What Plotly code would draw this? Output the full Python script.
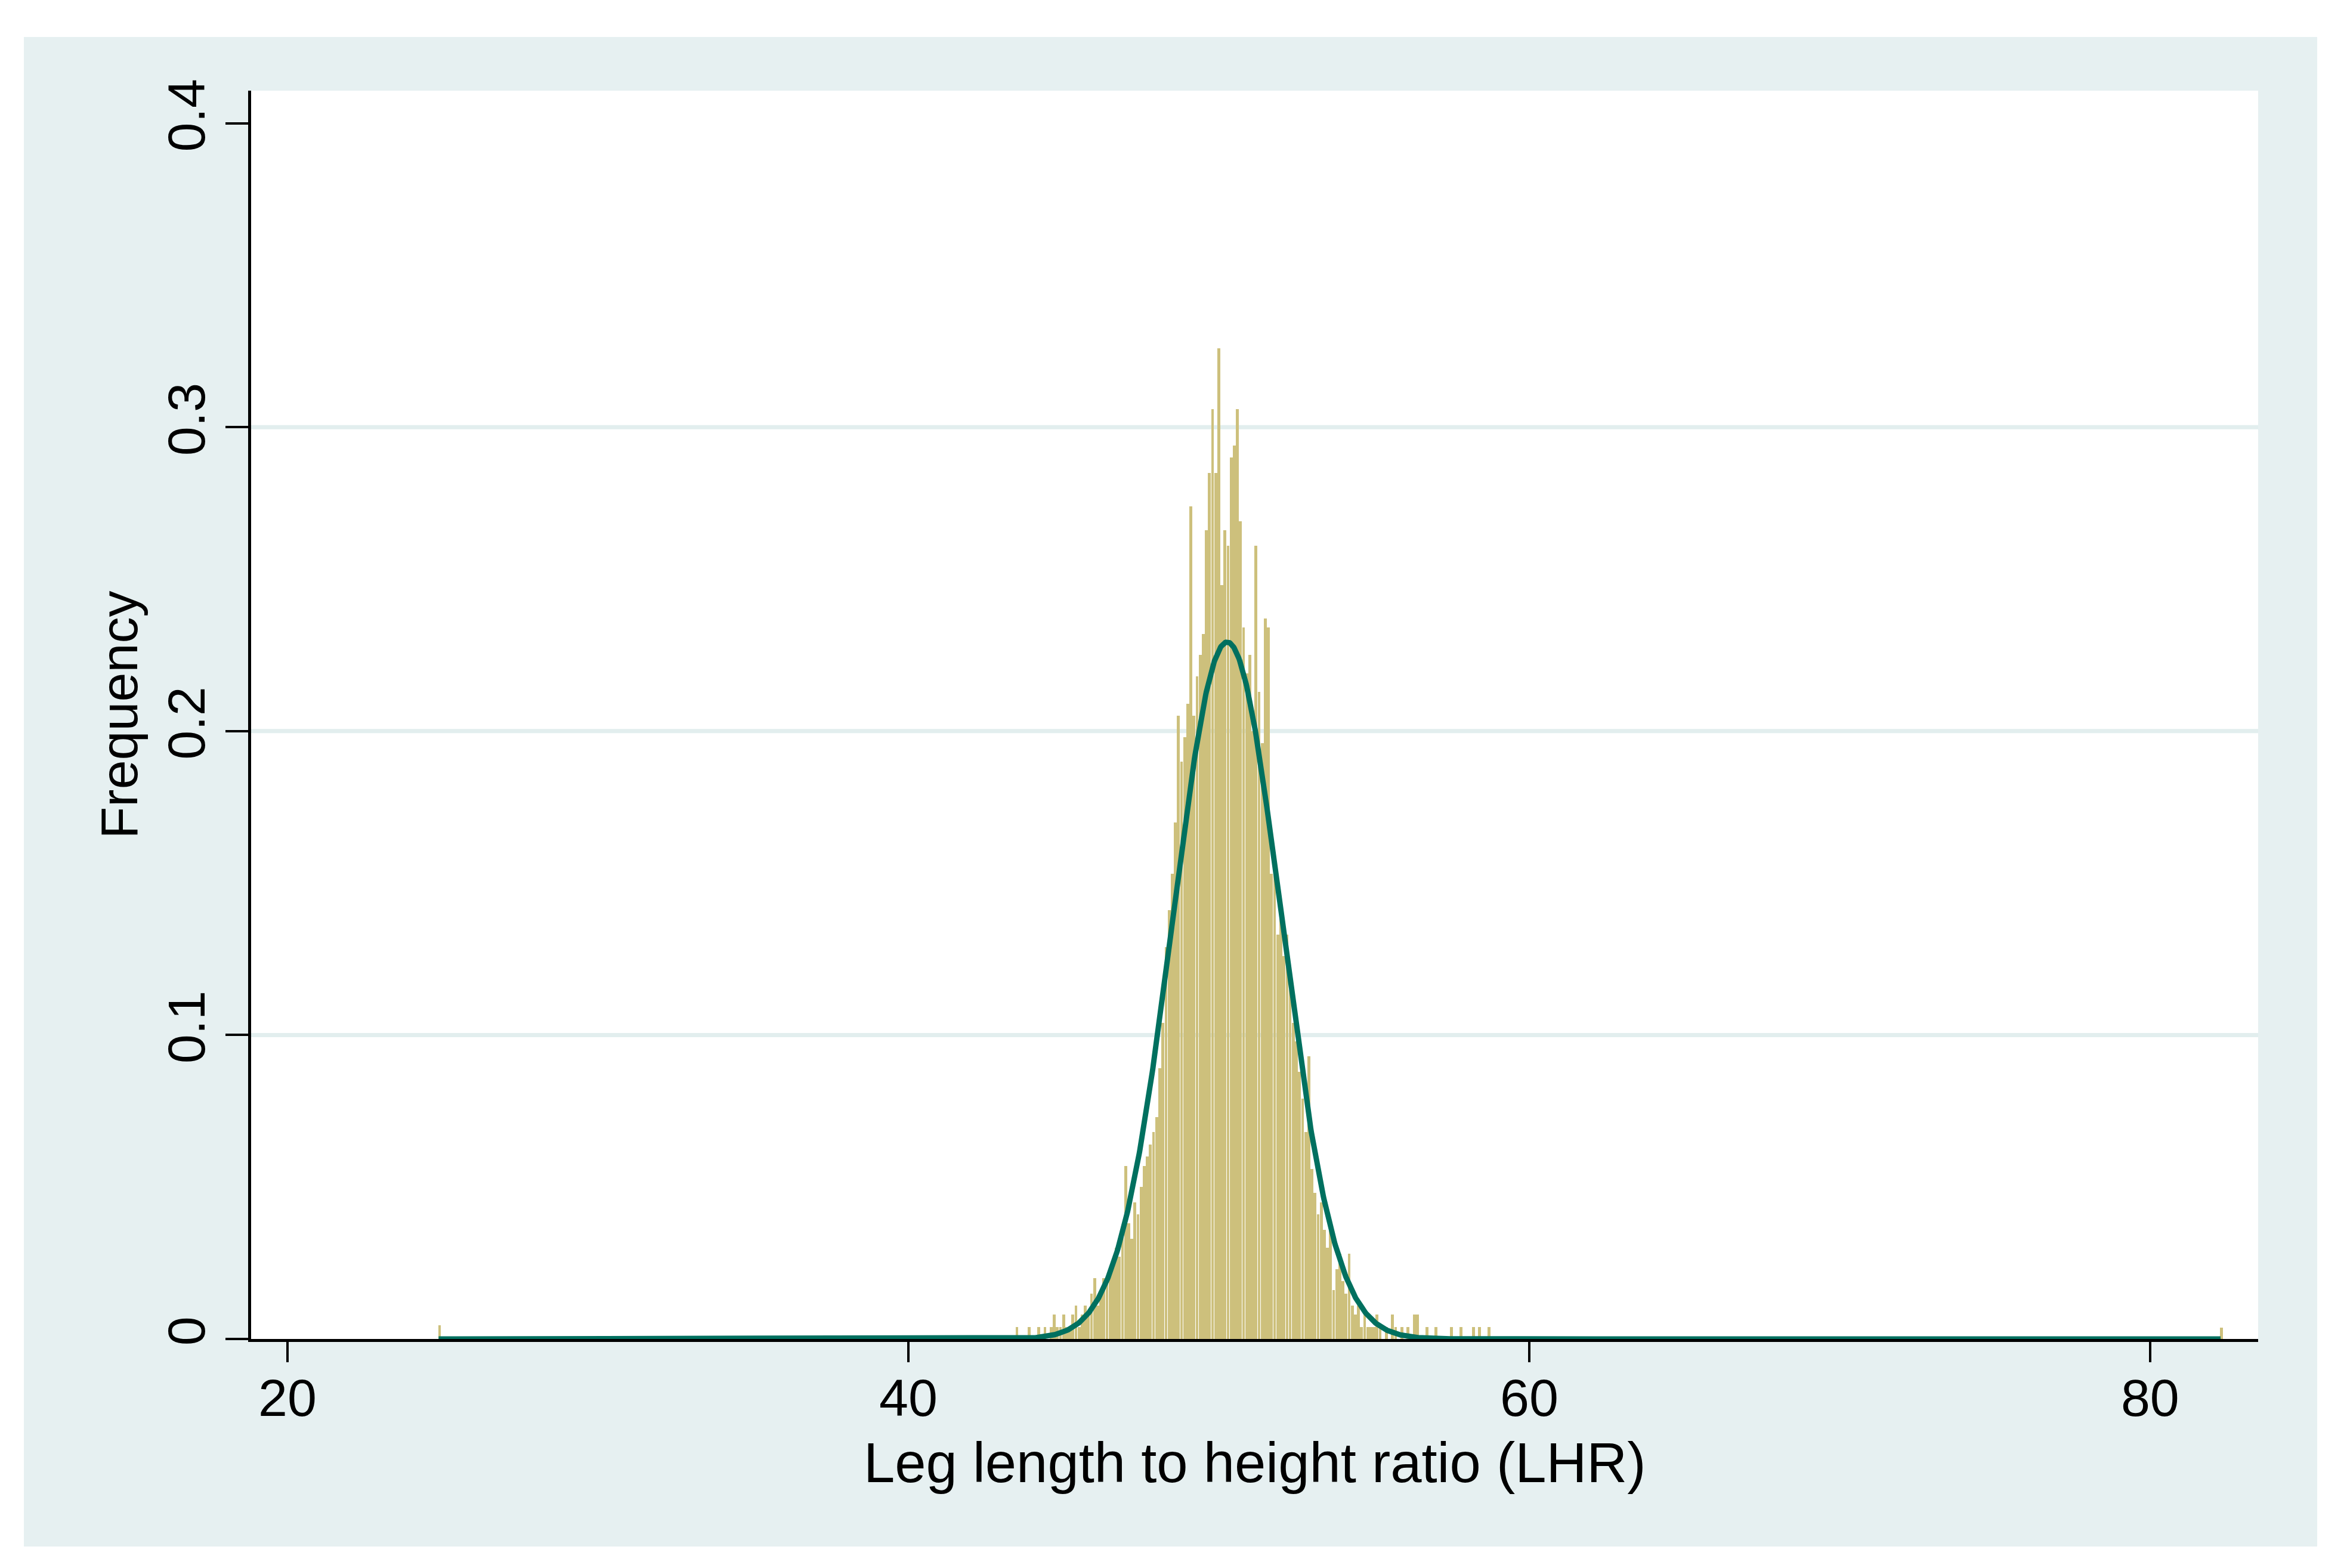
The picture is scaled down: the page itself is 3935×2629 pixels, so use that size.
import numpy as np
import plotly.graph_objects as go

# ---------------- data ----------------
bin_width = 0.1
core_start = 43.5  # centre of first bin of the main body
core_heights = [
    0.004, 0, 0, 0, 0.004, 0, 0, 0.004, 0, 0.004,            # 43.5 - 44.4
    0, 0.004, 0.008, 0.004, 0.004, 0.008, 0.004, 0.004, 0.008, 0.011,  # 44.5 - 45.4
    0.004, 0.008, 0.011, 0.008, 0.015, 0.020, 0.011, 0.015, 0.020, 0.019,  # 45.5 - 46.4
    0.023, 0.026, 0.030, 0.027, 0.034, 0.057, 0.038, 0.033, 0.045, 0.041,  # 46.5 - 47.4
    0.050, 0.057, 0.060, 0.064, 0.068, 0.073, 0.089, 0.104, 0.129, 0.141,  # 47.5 - 48.4
    0.153, 0.170, 0.205, 0.190, 0.198, 0.209, 0.274, 0.205, 0.218, 0.225,  # 48.5 - 49.4
    0.232, 0.266, 0.285, 0.306, 0.285, 0.326, 0.248, 0.266, 0.261, 0.290,  # 49.5 - 50.4
    0.294, 0.306, 0.269, 0.234, 0.219, 0.225, 0.200, 0.261, 0.213, 0.196,  # 50.5 - 51.4
    0.237, 0.234, 0.153, 0.160, 0.133, 0.141, 0.126, 0.133, 0.115, 0.104,  # 51.5 - 52.4
    0.098, 0.088, 0.079, 0.068, 0.093, 0.056, 0.048, 0.041, 0.045, 0.036,  # 52.5 - 53.4
    0.030, 0.036, 0.016, 0.023, 0.028, 0.019, 0.015, 0.028, 0.011, 0.008,  # 53.5 - 54.4
    0.011, 0.004, 0.008, 0.004, 0.004, 0.004, 0.008, 0.004, 0, 0.004,      # 54.5 - 55.4
    0, 0.008, 0.004, 0, 0.004, 0, 0.004, 0, 0.008, 0.008,                  # 55.5 - 56.4
    0, 0, 0.004, 0, 0, 0.004, 0, 0, 0, 0,                                  # 56.5 - 57.4
    0.004, 0, 0, 0.004, 0, 0, 0, 0.004, 0, 0.004,                          # 57.5 - 58.4
    0, 0, 0.004,                                                           # 58.5 - 58.7
]
outlier_x = [24.9, 82.3]
outlier_heights = [0.0046, 0.0037]

# fitted normal density drawn over the data range
mean_lhr = 50.27
sd_lhr = 1.74
lhr_min = 24.87
lhr_max = 82.27

x_ticks = [20, 40, 60, 80]
y_ticks = [0, 0.1, 0.2, 0.3, 0.4]
y_tick_text = ["0", "0.1", "0.2", "0.3", "0.4"]
grid_vals = [0.1, 0.2, 0.3]
x_title = "Leg length to height ratio (LHR)"
y_title = "Frequency"

# ---------------- build traces ----------------
core_x = [round(core_start + i * bin_width, 2) for i in range(len(core_heights))]
bar_x = [outlier_x[0]] + core_x + [outlier_x[1]]
bar_y = [outlier_heights[0]] + core_heights + [outlier_heights[1]]

curve_x = np.linspace(lhr_min, lhr_max, 3000)
curve_y = np.exp(-0.5 * ((curve_x - mean_lhr) / sd_lhr) ** 2) / (sd_lhr * np.sqrt(2 * np.pi))

W, H = 3935, 2629
ML, MR, MT, MB = 421, 149, 152, 384
PW, PH = W - ML - MR, H - MT - MB

def px_x(p):
    return (p - ML) / PW

def px_y(p):
    return (H - MB - p) / PH

BAR = "#cdc07c"
CURVE = "#00705f"
PANEL = "#e6f0f1"
GRID = "#e2eeee"
FONT = "Liberation Sans, Arial, Helvetica, sans-serif"

fig = go.Figure()
fig.add_trace(go.Bar(x=bar_x, y=bar_y, width=bin_width * 0.92,
                     marker=dict(color=BAR, line=dict(width=0)),
                     showlegend=False, hoverinfo="x+y"))
fig.add_trace(go.Scatter(x=curve_x, y=curve_y, mode="lines",
                         line=dict(color=CURVE, width=9),
                         showlegend=False, hoverinfo="skip"))

shapes = []
# gridlines
for g in grid_vals:
    shapes.append(dict(type="line", xref="paper", yref="y", x0=0, x1=1, y0=g, y1=g,
                       line=dict(color=GRID, width=7), layer="below"))
# white page border around the light-teal graph region
pl, pr, pt, pb = 40, 3885, 62, 2593
for (a, b, c, d) in [(0, W, 0, pt), (0, W, pb, H), (0, pl, 0, H), (pr, W, 0, H)]:
    shapes.append(dict(type="rect", xref="paper", yref="paper",
                       x0=px_x(a), x1=px_x(b), y0=px_y(d), y1=px_y(c),
                       fillcolor="white", line=dict(width=0), layer="below"))

# x-axis title placed as annotation for exact vertical position
annotations = [dict(text=x_title, xref="paper", yref="paper", x=0.5, y=px_y(2452),
                    xanchor="center", yanchor="middle", showarrow=False,
                    font=dict(size=94, family=FONT, color="black"))]

fig.update_layout(
    width=W, height=H, autosize=False,
    margin=dict(l=ML, r=MR, t=MT, b=MB, pad=0),
    paper_bgcolor=PANEL, plot_bgcolor="white",
    font=dict(family=FONT, color="black", size=86),
    bargap=0, showlegend=False,
    shapes=shapes, annotations=annotations,
    xaxis=dict(range=[18.83, 83.48], tickvals=x_ticks, ticks="outside", ticklen=34,
               tickwidth=4, tickcolor="black", showline=True, linecolor="black",
               linewidth=5, showgrid=False, zeroline=False, ticklabelstandoff=-16,
               tickfont=dict(size=88, family=FONT)),
    yaxis=dict(range=[0, 0.4107], tickvals=y_ticks, ticktext=y_tick_text, tickangle=-90,
               ticks="outside", ticklen=38, tickwidth=4, tickcolor="black",
               showline=True, linecolor="black", linewidth=5, showgrid=False,
               zeroline=False, tickfont=dict(size=88, family=FONT),
               title=dict(text=y_title, font=dict(size=88, family=FONT), standoff=4)),
)

fig.write_html("out.html", config={"displayModeBar": False},
               post_script="document.body.style.margin='0';document.body.style.overflow='hidden';")
